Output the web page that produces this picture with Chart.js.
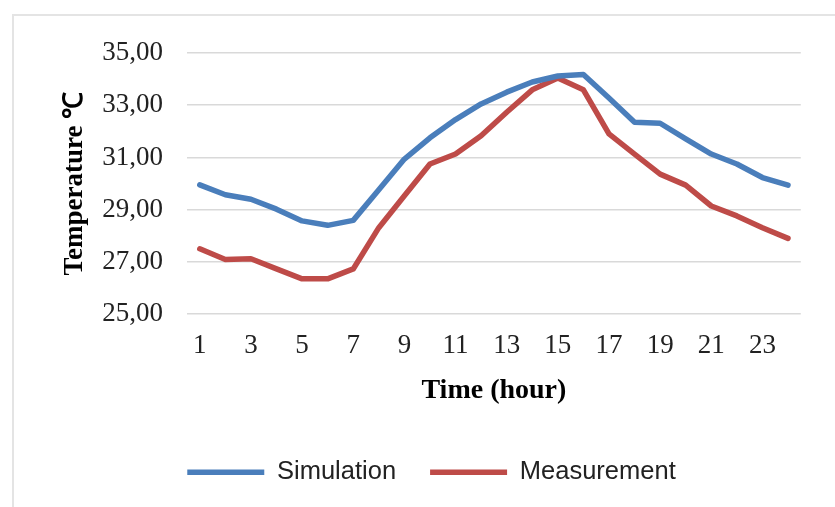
<!DOCTYPE html>
<html>
<head>
<meta charset="utf-8">
<script src="https://cdn.jsdelivr.net/npm/chart.js@4"></script>
<style>
  html, body { margin: 0; padding: 0; background: #fff; overflow: hidden; }
  body { width: 835px; height: 507px; position: relative; }
  #frame { position: absolute; left: 12px; top: 14px; width: 900px; height: 600px;
           border-left: 2px solid #e4e4e4; border-top: 2px solid #e4e4e4; }
  #wrap { position: absolute; left: 40px; top: 0; width: 764px; height: 507px; }
</style>
</head>
<body>
<div id="frame"></div>
<div id="wrap"><canvas id="tempChart"></canvas></div>
<script>
/* hours of the day */
const hours = [1, 2, 3, 4, 5, 6, 7, 8, 9, 10, 11, 12, 13, 14, 15, 16, 17, 18, 19, 20, 21, 22, 23, 24];

/* temperatures (°C) */
const simulation  = [29.95, 29.57, 29.40, 29.02, 28.57, 28.40, 28.59, 29.76, 30.94, 31.75, 32.45, 33.05,
                     33.50, 33.89, 34.12, 34.18, 33.28, 32.35, 32.31, 31.71, 31.13, 30.75, 30.23, 29.94];
const measurement = [27.50, 27.09, 27.12, 26.73, 26.35, 26.35, 26.73, 28.31, 29.53, 30.75, 31.13, 31.83,
                     32.73, 33.59, 34.04, 33.59, 31.90, 31.13, 30.36, 29.94, 29.14, 28.76, 28.31, 27.90];

/* axis */
const yTicks = [25, 27, 29, 31, 33, 35];

const serif = "'Liberation Serif', 'Times New Roman', serif";

new Chart(document.getElementById('tempChart').getContext('2d'), {
  type: 'line',
  data: {
    labels: hours,
    datasets: [
      { label: 'Simulation', data: simulation, borderColor: '#4a7ebb', backgroundColor: '#4a7ebb',
        borderWidth: 5.5, pointRadius: 0, tension: 0, borderCapStyle: 'round', borderJoinStyle: 'round' },
      { label: 'Measurement', data: measurement, borderColor: '#be4b48', backgroundColor: '#be4b48',
        borderWidth: 5.5, pointRadius: 0, tension: 0, borderCapStyle: 'round', borderJoinStyle: 'round' }
    ]
  },
  options: {
    responsive: true, maintainAspectRatio: false, animation: false,
    layout: { padding: { top: 53, left: 19, right: 0, bottom: 12 } },
    plugins: {
      tooltip: { enabled: false },
      legend: {
        position: 'bottom',
        labels: {
          usePointStyle: true, pointStyle: 'line', pointStyleWidth: 77,
          color: '#222', padding: 34,
          font: { family: "'Liberation Sans', Arial, sans-serif", size: 25.5 }
        }
      }
    },
    scales: {
      x: {
        offset: true,
        grid: { display: false, drawTicks: false },
        border: { display: false },
        ticks: {
          autoSkip: false, maxRotation: 0, padding: 16, color: '#222',
          font: { family: serif, size: 27 },
          callback: (v, i) => (i % 2 === 0 ? hours[i] : '')
        },
        title: { display: true, text: 'Time (hour)', color: '#000',
                 font: { family: serif, size: 28, weight: 'bold', lineHeight: 1 },
                 padding: { top: -2, bottom: 21 } }
      },
      y: {
        min: 25, max: 35,
        afterBuildTicks: s => { s.ticks = yTicks.map(v => ({ value: v })); },
        grid: { color: '#d9d9d9', lineWidth: 1.5, drawTicks: false },
        border: { display: false },
        ticks: { padding: 24, color: '#222', font: { family: serif, size: 27 },
                 callback: v => v.toFixed(2).replace('.', ',') },
        title: { display: true, text: 'Temperature ℃', color: '#000',
                 font: { family: serif, size: 27, weight: 'bold' }, padding: 0 },
        afterFit: s => { s.width = 128; }
      }
    }
  }
});
</script>
</body>
</html>
